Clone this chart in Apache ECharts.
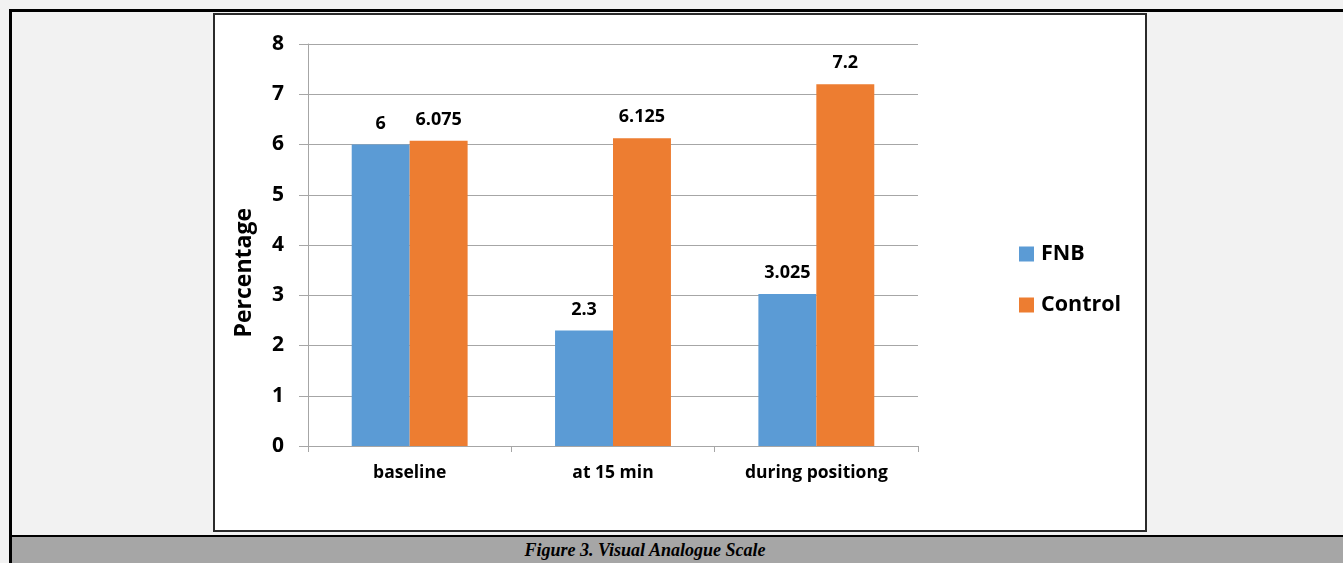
<!DOCTYPE html>
<html>
<head>
<meta charset="utf-8">
<script src="https://cdn.jsdelivr.net/npm/echarts@6/dist/echarts.min.js"></script>
<style>
  html, body { margin: 0; padding: 0; width: 1343px; height: 563px; overflow: hidden; background: #f2f2f2; }
  .abs { position: absolute; box-sizing: border-box; }
  #topline { left: 9px; top: 9px; width: 1334px; height: 3px; background: #000; }
  #leftline { left: 9px; top: 9px; width: 3px; height: 554px; background: #000; }
  #box { left: 213px; top: 13px; width: 934px; height: 519px; background: #fff; border: 2px solid #2a2a2a; }
  #band { left: 12px; top: 535px; width: 1331px; height: 28px; background: #a6a6a6; border-top: 2px solid #000; }
  #caption { left: 12px; top: 537px; width: 1266px; height: 26px; line-height: 27px; text-align: center;
             font-family: "Liberation Serif", "DejaVu Serif", serif; font-weight: bold; font-style: italic; font-size: 18px; color: #000; }
  #chart { left: 0; top: 0; width: 1343px; height: 563px; }
</style>
</head>
<body>
<div class="abs" id="topline"></div>
<div class="abs" id="leftline"></div>
<div class="abs" id="box"></div>
<div class="abs" id="band"></div>
<div class="abs" id="caption">Figure 3. Visual Analogue Scale</div>
<div class="abs" id="chart"></div>
<script>
const categories = ['baseline', 'at 15 min', 'during positiong'];
const fnbValues = [6, 2.3, 3.025];
const controlValues = [6.075, 6.125, 7.2];
const seriesNames = ['FNB', 'Control'];
const yTicks = { min: 0, max: 8, interval: 1 };
const yAxisTitle = 'Percentage';

const FONT = '"Open Sans", Lato, "Liberation Sans", sans-serif';
const chart = echarts.init(document.getElementById('chart'), null, { renderer: 'canvas' });

const labelCfg = {
  show: true, position: 'top', distance: 12,
  fontFamily: FONT, fontWeight: 'bold', fontSize: 18, color: '#000',
  formatter: p => String(p.value)
};

chart.setOption({
  backgroundColor: 'transparent',
  animation: false,
  grid: { left: 308, top: 44, right: 425, bottom: 117, containLabel: false },
  legend: {
    orient: 'vertical', left: 1014, top: 238,
    itemWidth: 15, itemHeight: 15, itemGap: 29, icon: 'rect',
    textStyle: { fontFamily: FONT, fontWeight: 'bold', fontSize: 21.5, color: '#000', lineHeight: 20, padding: [0, 0, 0, 2] },
    data: seriesNames
  },
  graphic: [{
    type: 'text', left: 233, top: 208, rotation: Math.PI / 2, z: 10,
    style: { text: yAxisTitle, font: 'bold 23px ' + FONT, fill: '#000' }
  }],
  xAxis: {
    type: 'category', data: categories,
    axisLine: { lineStyle: { color: '#a6a6a6', width: 1 } },
    axisTick: { show: true, length: 6, lineStyle: { color: '#a6a6a6' } },
    axisLabel: { fontFamily: FONT, fontWeight: 'bold', fontSize: 17.5, color: '#000', margin: 18 }
  },
  yAxis: {
    type: 'value', min: yTicks.min, max: yTicks.max, interval: yTicks.interval,
    axisLine: { show: true, lineStyle: { color: '#a6a6a6', width: 1 } },
    axisTick: { show: true, length: 9, lineStyle: { color: '#a6a6a6' } },
    splitLine: { show: true, lineStyle: { color: '#a6a6a6', width: 1 } },
    axisLabel: { fontFamily: FONT, fontWeight: 'bold', fontSize: 21, color: '#000', margin: 24 }
  },
  series: [
    { name: seriesNames[0], type: 'bar', data: fnbValues, itemStyle: { color: '#5b9bd5' },
      barGap: '0%', barCategoryGap: '43%', label: labelCfg },
    { name: seriesNames[1], type: 'bar', data: controlValues, itemStyle: { color: '#ed7d31' },
      barGap: '0%', barCategoryGap: '43%', label: labelCfg }
  ]
});
</script>
</body>
</html>
